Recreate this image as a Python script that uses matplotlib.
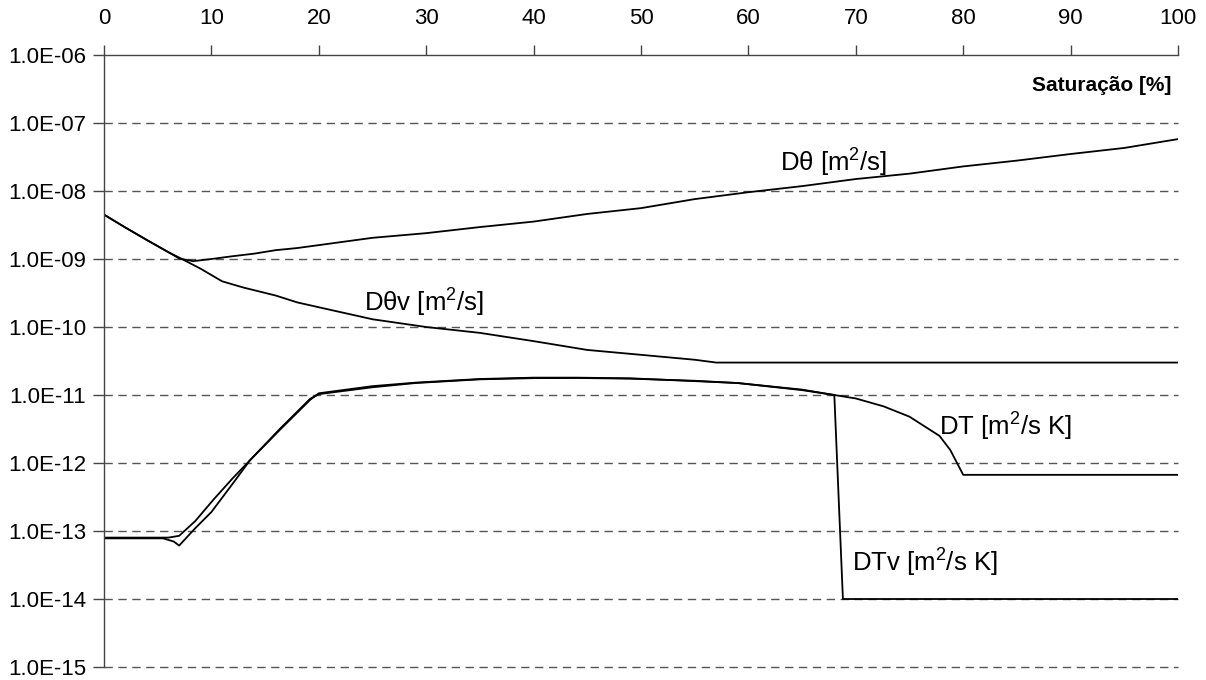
import numpy as np
import matplotlib
matplotlib.use("Agg")
import matplotlib.pyplot as plt
from matplotlib.ticker import FixedLocator, FuncFormatter

plt.rcParams['font.family'] = ['Liberation Sans', 'DejaVu Sans']
plt.rcParams['mathtext.fontset'] = 'custom'
plt.rcParams['mathtext.rm'] = 'Liberation Sans'
plt.rcParams['mathtext.it'] = 'Liberation Sans'

# Dtheta [m2/s]
s_dtheta = [0, 2, 4, 6, 7, 8.3, 10, 12, 14, 16, 18, 20, 25, 30, 35, 40, 45, 50,
            55, 60, 65, 70, 75, 80, 85, 90, 95, 100]
dtheta = [4.5e-9, 2.9e-9, 1.9e-9, 1.26e-9, 1.02e-9, 0.93e-9, 1.0e-9, 1.1e-9,
          1.2e-9, 1.35e-9, 1.45e-9, 1.6e-9, 2.05e-9, 2.4e-9, 2.95e-9, 3.55e-9,
          4.6e-9, 5.6e-9, 7.6e-9, 9.6e-9, 1.18e-8, 1.5e-8, 1.8e-8, 2.3e-8,
          2.8e-8, 3.5e-8, 4.3e-8, 5.8e-8]

# Dtheta v [m2/s]
s_dthetav = [0, 2, 4, 6, 7, 9, 11, 13, 16, 18, 21, 25, 30, 35, 40, 45, 50, 55,
             57, 100]
dthetav = [4.5e-9, 2.9e-9, 1.9e-9, 1.26e-9, 1.05e-9, 7.2e-10, 4.7e-10, 3.8e-10,
           2.9e-10, 2.3e-10, 1.8e-10, 1.3e-10, 1.0e-10, 8.2e-11, 6.2e-11,
           4.6e-11, 3.9e-11, 3.3e-11, 3.0e-11, 3.0e-11]

# DT [m2/s K]
s_dt = [0, 5.5, 6.5, 7, 8.5, 10, 12, 13.6, 16.4, 19.2, 20, 25, 29, 35, 40, 44,
        49, 55, 59, 65, 68, 70, 72.6, 75, 77.8, 78.8, 80, 100]
dt = [7.8e-14, 7.8e-14, 7.0e-14, 6.1e-14, 1.1e-13, 1.9e-13, 5.0e-13, 1.1e-12,
      3.1e-12, 8.5e-12, 1.06e-11, 1.35e-11, 1.52e-11, 1.72e-11, 1.8e-11,
      1.8e-11, 1.76e-11, 1.6e-11, 1.5e-11, 1.18e-11, 1.0e-11, 8.9e-12,
      6.8e-12, 4.8e-12, 2.5e-12, 1.55e-12, 6.7e-13, 6.7e-13]

# DTv [m2/s K]
s_dtv = [0, 6, 7, 8.5, 10.2, 12, 13.6, 16.4, 19.2, 20, 25, 29, 35, 40, 44, 49,
         55, 59, 65, 68, 68.8, 100]
dtv = [8.0e-14, 8.0e-14, 8.5e-14, 1.4e-13, 2.9e-13, 6.0e-13, 1.1e-12, 3.2e-12,
       8.8e-12, 1.03e-11, 1.3e-11, 1.5e-11, 1.7e-11, 1.77e-11, 1.78e-11,
       1.74e-11, 1.62e-11, 1.5e-11, 1.2e-11, 1.0e-11, 1.0e-14, 1.0e-14]

y_ticks = [1e-15, 1e-14, 1e-13, 1e-12, 1e-11, 1e-10, 1e-9, 1e-8, 1e-7, 1e-6]
x_ticks = [0, 10, 20, 30, 40, 50, 60, 70, 80, 90, 100]


def sci_fmt(v, pos):
    e = int(round(np.log10(v)))
    return "1.0E-%02d" % (-e) if e < 0 else "1.0E+%02d" % e


fig = plt.figure(figsize=(12.06, 6.8), dpi=100)
ax = fig.add_axes([0.0862, 0.0191, 0.8906, 0.9000])

for s, d in [(s_dtheta, dtheta), (s_dthetav, dthetav), (s_dt, dt), (s_dtv, dtv)]:
    ax.plot(s, d, color='black', lw=1.3)

ax.set_yscale('log')
ax.set_xlim(0, 100)
ax.set_ylim(1e-15, 1e-6)

ax.yaxis.set_major_locator(FixedLocator(y_ticks))
ax.yaxis.set_minor_locator(FixedLocator([]))
ax.yaxis.set_major_formatter(FuncFormatter(sci_fmt))
ax.xaxis.set_major_locator(FixedLocator(x_ticks))

ax.xaxis.tick_top()
ax.tick_params(axis='x', direction='out', length=7, width=1, color='#444444',
               labelsize=16, pad=12)
ax.tick_params(axis='y', direction='out', length=8, width=1, color='#444444',
               labelsize=16, pad=5)

for y in y_ticks[:-1]:
    ax.axhline(y, color='#555555', lw=1, ls=(0, (6, 4)), zorder=0, clip_on=False)

for side in ['right', 'bottom']:
    ax.spines[side].set_visible(False)
for side in ['left', 'top']:
    ax.spines[side].set_color('#444444')
    ax.spines[side].set_linewidth(1)

ax.text(99.4, 3.6e-7, 'Saturação [%]', ha='right', va='center',
        fontsize=15, fontweight='bold')
ax.text(62.9, 2.6e-8, 'Dθ [m$^2$/s]', ha='left', va='center', fontsize=18.5)
ax.text(24.2, 2.25e-10, 'Dθv [m$^2$/s]', ha='left', va='center', fontsize=18.5)
ax.text(77.7, 3.4e-12, 'DT [m$^2$/s K]', ha='left', va='center', fontsize=18.5)
ax.text(69.6, 3.4e-14, 'DTv [m$^2$/s K]', ha='left', va='center', fontsize=18.5)

fig.savefig('out.png', dpi=100)
